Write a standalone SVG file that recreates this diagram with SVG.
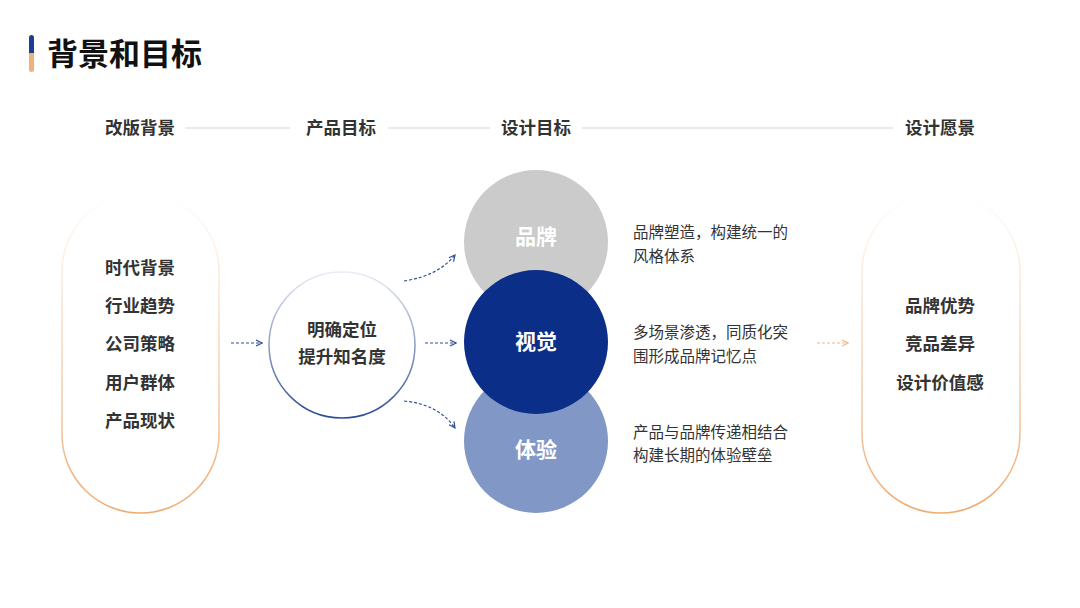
<svg xmlns="http://www.w3.org/2000/svg" width="1080" height="608" viewBox="0 0 1080 608">
<defs>
<style>
text{font-family:"Noto Sans CJK SC","Noto Sans",sans-serif;}
.title{font-size:31px;font-weight:700;fill:#111;}
.hdr{font-size:17.5px;font-weight:700;fill:#333;text-anchor:middle;}
.item{font-size:17.5px;font-weight:700;fill:#333;text-anchor:middle;}
.desc{font-size:15.5px;fill:#333;}
.ctext{font-size:21px;font-weight:700;fill:#fff;text-anchor:middle;}
.hline{stroke:#d6d6d6;stroke-width:1.2;}
.dash{fill:none;stroke:#2d4e95;stroke-width:1.2;stroke-dasharray:3 2;}
.dasho{fill:none;stroke:#f0b888;stroke-width:1.2;stroke-dasharray:3 2;}
</style>
<linearGradient id="bar" x1="0" y1="0" x2="0" y2="1">
<stop offset="0.5" stop-color="#1f3d8f"/><stop offset="0.5" stop-color="#eeb278"/>
</linearGradient>
<linearGradient id="cap" x1="0" y1="0" x2="0" y2="1">
<stop offset="0" stop-color="#f2b98a" stop-opacity="0"/><stop offset="0.5" stop-color="#f2b98a" stop-opacity="0.6"/><stop offset="1" stop-color="#eeaa70"/>
</linearGradient>
<linearGradient id="ring" x1="0" y1="0" x2="0" y2="1">
<stop offset="0" stop-color="#2d4e95" stop-opacity="0.1"/><stop offset="1" stop-color="#2d4e95"/>
</linearGradient>
<marker id="ah" viewBox="0 0 8 8" refX="7" refY="4" markerWidth="8" markerHeight="8" orient="auto" markerUnits="userSpaceOnUse">
<path d="M1,1 L7,4 L1,7" fill="none" stroke="#2d4e95" stroke-width="1.2"/>
</marker>
<marker id="aho" viewBox="0 0 8 8" refX="7" refY="4" markerWidth="8" markerHeight="8" orient="auto" markerUnits="userSpaceOnUse">
<path d="M1,1 L7,4 L1,7" fill="none" stroke="#f0b888" stroke-width="1.2"/>
</marker>
</defs>
<rect width="1080" height="608" fill="#fff"/>
<g id="title">
<rect x="29" y="35" width="5" height="37" rx="2.5" fill="url(#bar)"/>
<text class="title" x="47" y="65">背景和目标</text>
</g>
<g id="header">
<text class="hdr" x="140" y="134">改版背景</text>
<text class="hdr" x="341" y="134">产品目标</text>
<text class="hdr" x="536" y="134">设计目标</text>
<text class="hdr" x="940" y="134">设计愿景</text>
<line class="hline" x1="185" y1="128" x2="290" y2="128"/>
<line class="hline" x1="388" y1="128" x2="490" y2="128"/>
<line class="hline" x1="582" y1="128" x2="893" y2="128"/>
</g>
<g id="background">
<rect x="62" y="193" width="157" height="320" rx="78.5" fill="#fff" stroke="url(#cap)" stroke-width="1.5"/>
<text class="item" x="140" y="274">时代背景</text>
<text class="item" x="140" y="312">行业趋势</text>
<text class="item" x="140" y="350">公司策略</text>
<text class="item" x="140" y="389">用户群体</text>
<text class="item" x="140" y="427">产品现状</text>
</g>
<g id="product-goal">
<circle cx="342" cy="345" r="73" fill="#fff" stroke="url(#ring)" stroke-width="1.5"/>
<text class="item" x="342" y="336">明确定位</text>
<text class="item" x="342" y="363">提升知名度</text>
</g>
<g id="brand">
<circle cx="536" cy="242" r="72" fill="#cbcbcb"/>
<text class="ctext" x="536" y="244">品牌</text>
</g>
<g id="experience">
<circle cx="536" cy="441" r="72" fill="#8197c6"/>
<text class="ctext" x="536" y="457">体验</text>
</g>
<g id="visual">
<circle cx="536" cy="342" r="72" fill="#0b2f88"/>
<text class="ctext" x="536" y="349">视觉</text>
</g>
<g id="descriptions">
<text class="desc" x="633" y="238">品牌塑造，构建统一的</text>
<text class="desc" x="633" y="262">风格体系</text>
<text class="desc" x="633" y="338">多场景渗透，同质化突</text>
<text class="desc" x="633" y="362">围形成品牌记忆点</text>
<text class="desc" x="633" y="438">产品与品牌传递相结合</text>
<text class="desc" x="633" y="461">构建长期的体验壁垒</text>
</g>
<g id="vision">
<rect x="862" y="193" width="158" height="320" rx="79" fill="#fff" stroke="url(#cap)" stroke-width="1.5"/>
<text class="item" x="940" y="312">品牌优势</text>
<text class="item" x="940" y="350">竞品差异</text>
<text class="item" x="940" y="389">设计价值感</text>
</g>
<g id="connectors">
<line class="dash" x1="231" y1="343" x2="262" y2="343" marker-end="url(#ah)"/>
<line class="dash" x1="425" y1="343" x2="456" y2="343" marker-end="url(#ah)"/>
<path class="dash" d="M404,281 Q438,276 455,255" marker-end="url(#ah)"/>
<path class="dash" d="M404,401 Q438,404 455,428" marker-end="url(#ah)"/>
<line class="dasho" x1="817" y1="343" x2="848" y2="343" marker-end="url(#aho)"/>
</g>
</svg>
